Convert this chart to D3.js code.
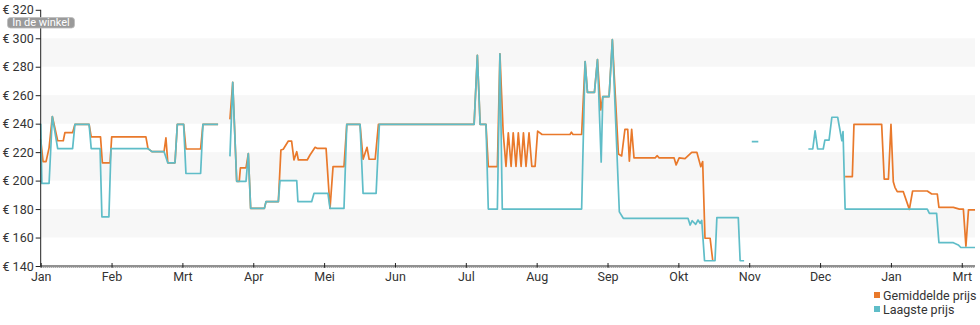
<!DOCTYPE html>
<html>
<head>
<meta charset="utf-8">
<script src="https://cdn.jsdelivr.net/npm/d3@7"></script>
<style>
  html, body { margin: 0; padding: 0; background: #fff; }
  svg { display: block; font-family: Roboto, "Noto Sans", sans-serif; }
</style>
</head>
<body>
<svg id="chart" width="980" height="325"></svg>
<script>
// Month labels along the bottom axis (one tick per month)
const monthLabels = ["Jan", "Feb", "Mrt", "Apr", "Mei", "Jun", "Jul", "Aug", "Sep", "Okt", "Nov", "Dec", "Jan", "Mrt"];
const daysPerMonth = 30.44;
const lastDay = 401.4;

// Price ticks on the left axis
const priceTicks = [140, 160, 180, 200, 220, 240, 260, 280, 300, 320];

// Average price: [day, euro]; null marks a gap in the record
const avgPrice = [
  [0, 229], [1.0, 213.3], [2.3, 213.3], [3.6, 223], [5.0, 245], [7.3, 228], [9.7, 228],
  [10.4, 233.7], [13.7, 233.7], [14.7, 239.5], [20.8, 239.5], [21.7, 230.7], [25.7, 230.7],
  [26.5, 212.4], [29.8, 212.4], [30.5, 230.7], [45.2, 230.7], [46.1, 222.5], [47.8, 220.3],
  [53.0, 220.3], [53.8, 230], [54.6, 212.5], [57.7, 212.5], [58.7, 239.5], [61.4, 239.5],
  [62.4, 222.2], [68.7, 222.2], [69.7, 239.5], [76.2, 239.5],
  null,
  [81.3, 243], [82.5, 269], [84.2, 199.5], [85.3, 199.5], [85.8, 209], [88.2, 209],
  [89.2, 219], [90.2, 180.5], [96.1, 180.5], [96.8, 185.2], [102.1, 185.2], [103.2, 221.5],
  [104.2, 222], [106.4, 227.8], [107.8, 227.8], [108.8, 214.5], [110.0, 220.3], [110.7, 214.5],
  [114.5, 214.5], [115.7, 218], [117.9, 223.4], [118.7, 222.7], [122.6, 222.7], [124.3, 180.5],
  [125.6, 209.8], [130.3, 209.8], [131.5, 239.5], [137.2, 239.5], [138.5, 215], [140.2, 223.4],
  [141.1, 215], [143.7, 215], [145.1, 239.5], [186.2, 239.5], [187.6, 288], [188.8, 239.5],
  [191.3, 239.5], [192.3, 209.8], [196.2, 209.8], [197.3, 289], [198.7, 233.5], [199.9, 210],
  [200.9, 233.5], [202.1, 210], [203.0, 233.5], [204.2, 210], [205.2, 233.5], [206.4, 210],
  [207.4, 233.5], [208.5, 210], [209.8, 233.5], [211.0, 210], [212.4, 210], [213.5, 234.8],
  [215.4, 232.4], [227.4, 232.4], [228.0, 234], [228.7, 232.4], [232.4, 232.4], [233.9, 283.6],
  [234.9, 262], [237.9, 262], [239.2, 285], [240.6, 249.6], [241.5, 259], [244.2, 259],
  [245.6, 299], [248.2, 218.7], [249.6, 217.3], [251.0, 236], [252.2, 236], [252.9, 213.7],
  [253.9, 236], [254.9, 216], [264.0, 216], [264.8, 217.5], [265.7, 216], [272.1, 216],
  [273.0, 211], [274.3, 216], [276.8, 215.5], [279.7, 219.9], [281.9, 219.9], [283.6, 209.8],
  [284.4, 213.3], [285.4, 159.5], [287.6, 159.5], [288.7, 144.2],
  null,
  [345.6, 202.8], [348.7, 202.8], [349.4, 239.5], [361.3, 239.5], [362.4, 201], [364.2, 201],
  [365.3, 239.5], [366.3, 199.2], [367.0, 195.3], [368.0, 192.2], [370.6, 192.2], [373.2, 179.8],
  [374.6, 192.7], [380.9, 192.7], [382.8, 190.6], [385.2, 190.6], [385.9, 181.2], [392.1, 181.2],
  [394.7, 180], [396.4, 180], [397.5, 154], [398.6, 179.4], [401.4, 179.4]
];

// Lowest price: [day, euro]; null marks a gap in the record
const lowPrice = [
  [0, 240], [0.5, 198], [3.6, 198], [5.0, 245], [7.3, 222.5], [13.7, 222.5], [14.7, 239.5],
  [20.8, 239.5], [21.7, 222.5], [25.5, 222.5], [26.3, 174.5], [29.3, 174.5], [30.2, 222.5],
  [46.1, 222.5], [47.8, 220.3], [53.0, 220.3], [54.6, 212.5], [57.7, 212.5], [58.7, 239.5],
  [61.4, 239.5], [62.4, 205], [68.7, 205], [69.7, 239.5], [76.2, 239.5],
  null,
  [81.3, 217], [82.5, 269], [84.2, 199.5], [88.2, 199.5], [89.2, 219], [90.2, 180.5],
  [96.1, 180.5], [96.8, 185.2], [102.1, 185.2], [102.8, 200], [110.0, 200], [110.5, 185.2],
  [116.4, 185.2], [117.4, 191], [123.4, 191], [124.3, 180.5], [130.3, 180.5], [131.5, 239.5],
  [137.2, 239.5], [138.5, 191], [144.1, 191], [145.5, 239.5], [186.2, 239.5], [187.6, 288],
  [188.8, 239.5], [191.3, 239.5], [192.3, 180], [196.2, 180], [197.3, 289], [198.3, 180],
  [232.4, 180], [233.9, 283.6], [234.9, 262], [237.9, 262], [239.2, 285], [240.8, 213],
  [241.5, 259], [244.2, 259], [245.6, 299], [248.6, 178], [250.3, 173.5], [278.1, 173.5],
  [279.0, 168.8], [279.9, 171.8], [281.4, 169.3], [282.4, 172.3], [283.3, 170], [284.0, 172],
  [285.2, 143.7], [289.7, 143.7], [290.5, 174], [299.7, 174], [300.5, 143.7], [302.2, 143.7],
  null,
  [305.5, 227.4], [308.3, 227.4],
  null,
  [329.8, 222.2], [331.7, 222.2], [332.7, 235], [333.8, 222.2], [336.2, 222.2], [336.9, 228.5],
  [338.7, 228.5], [339.9, 244.5], [342.4, 244.5], [344.2, 228], [344.7, 234.4], [345.6, 180],
  [380.9, 180], [381.8, 177], [384.9, 177], [385.9, 156.4], [392.1, 156.4], [394.2, 154.8],
  [395.3, 153], [401.4, 153]
];

const seriesNames = ["Gemiddelde prijs", "Laagste prijs"];
const seriesColors = ["#e9792b", "#5fbdc8"];

const svg = d3.select("#chart");
const plotLeft = 40.7, plotRight = 975, plotTop = 9.8, plotBottom = 266;

const x = d3.scaleLinear().domain([0, lastDay]).range([plotLeft, plotRight]);
const y = d3.scaleLinear().domain([140, 320]).range([plotBottom, plotTop]);

// Alternating horizontal bands
const bandPairs = d3.pairs(priceTicks).filter((_, i) => i % 2 === 1);
svg.append("g").selectAll("rect").data(bandPairs).join("rect")
  .attr("x", plotLeft)
  .attr("width", plotRight - plotLeft)
  .attr("y", d => y(d[1]))
  .attr("height", d => y(d[0]) - y(d[1]))
  .attr("fill", "#f7f7f7");

// Price lines
const line = d3.line()
  .defined(d => d !== null)
  .x(d => x(d[0]))
  .y(d => y(d[1]));

[avgPrice, lowPrice].forEach((data, i) => {
  svg.append("path")
    .datum(data)
    .attr("fill", "none")
    .attr("stroke", seriesColors[i])
    .attr("stroke-width", 1.7)
    .attr("stroke-linejoin", "round")
    .attr("d", line);
});

// Left axis
const yAxis = d3.axisLeft(y)
  .tickValues(priceTicks)
  .tickFormat(d => "€ " + d)
  .tickSize(5)
  .tickPadding(2);
const gy = svg.append("g").attr("transform", `translate(${plotLeft},0)`).call(yAxis);
gy.select(".domain").attr("stroke", "#222").attr("d", `M0,${plotTop}V${plotBottom}`);
gy.selectAll(".tick line").attr("stroke", "#222");
gy.selectAll(".tick text")
  .attr("fill", "#333")
  .style("font-size", "12.5px")
  .style("font-family", "Roboto, sans-serif");

// Bottom axis
const monthTicks = monthLabels.map((_, i) => i * daysPerMonth);
const xAxis = d3.axisBottom(x)
  .tickValues(monthTicks)
  .tickFormat((d, i) => monthLabels[i])
  .tickSize(3)
  .tickPadding(3);
const gx = svg.append("g").attr("transform", `translate(0,${plotBottom})`).call(xAxis);
gx.select(".domain").attr("stroke", "#222").attr("d", `M${plotLeft},0H${plotRight}`);
gx.selectAll(".tick line").attr("stroke", "#222").attr("y1", -3).attr("y2", 2);
gx.selectAll(".tick text")
  .attr("fill", "#333")
  .style("font-size", "12.5px")
  .style("font-family", "Roboto, sans-serif");
gx.append("line")
  .attr("x1", plotLeft).attr("x2", plotRight)
  .attr("y1", 1.5).attr("y2", 1.5)
  .attr("stroke", "#888")
  .attr("stroke-dasharray", "1,1");

// Store badge at the top of the price axis
const badge = svg.append("g").attr("transform", "translate(7.5,17.5)");
badge.append("rect")
  .attr("width", 67).attr("height", 10.5).attr("rx", 3)
  .attr("fill", "#9a9a9a").attr("stroke", "#bbb").attr("stroke-width", 0.8);
badge.append("text")
  .attr("x", 33.5).attr("y", 8.8)
  .attr("text-anchor", "middle")
  .attr("fill", "#fff")
  .style("font-size", "11px")
  .text("In de winkel");

// Legend
const legend = svg.append("g").selectAll("g").data(seriesNames).join("g")
  .attr("transform", (d, i) => `translate(874,${292 + i * 14})`);
legend.append("rect")
  .attr("width", 6).attr("height", 6).attr("y", 0)
  .attr("fill", (d, i) => seriesColors[i]);
legend.append("text")
  .attr("x", 9).attr("y", 7.5)
  .attr("fill", "#333")
  .style("font-size", "12.5px")
  .text(d => d);
</script>
</body>
</html>
